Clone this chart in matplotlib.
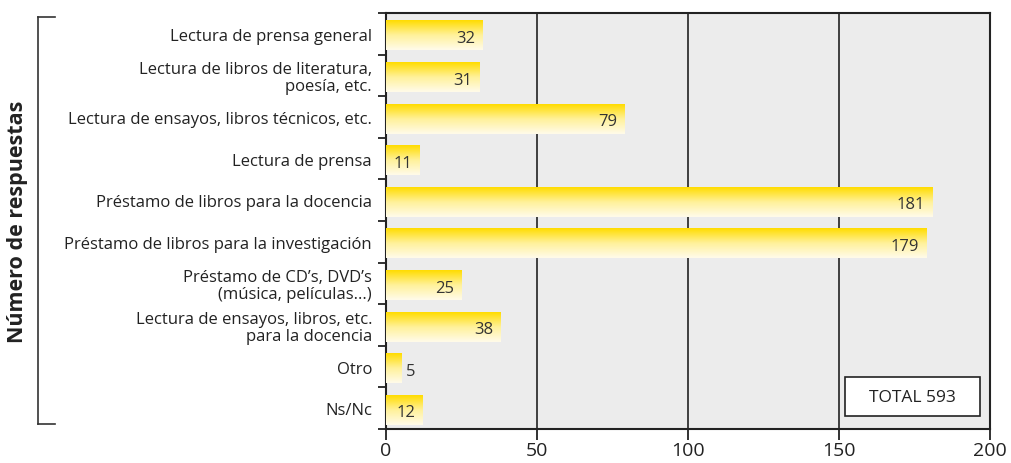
import numpy as np
import matplotlib.pyplot as plt
from matplotlib.colors import LinearSegmentedColormap
from matplotlib.lines import Line2D
from matplotlib.patches import Rectangle

plt.rcParams['font.family'] = ['Open Sans', 'DejaVu Sans']

categories = ['Lectura de prensa general',
              'Lectura de libros de literatura,\npoesía, etc.',
              'Lectura de ensayos, libros técnicos, etc.',
              'Lectura de prensa',
              'Préstamo de libros para la docencia',
              'Préstamo de libros para la investigación',
              'Préstamo de CD’s, DVD’s\n(música, películas...)',
              'Lectura de ensayos, libros, etc.\npara la docencia',
              'Otro',
              'Ns/Nc']
values = [32, 31, 79, 11, 181, 179, 25, 38, 5, 12]
total_text = 'TOTAL 593'
y_title = 'Número de respuestas'
x_ticks = [0, 50, 100, 150, 200]

fig = plt.figure(figsize=(10.11, 4.64), dpi=100)
ax = fig.add_axes([386/1011, 1 - 430/464, (990-386)/1011, (430-14)/464])
ax.set_facecolor('#ececec')

# yellow gradient for bars (top strong, bottom pale)
cmap = LinearSegmentedColormap.from_list('yel', ['#ffdc00', '#fff19a', '#fffbea'])
grad = np.linspace(0, 1, 100).reshape(-1, 1)

h = 0.72
off = 0.04
for i, v in enumerate(values):
    ax.imshow(grad, cmap=cmap, aspect='auto', origin='upper',
              extent=(0, v, i + off + h/2, i + off - h/2), zorder=3, interpolation='bicubic')
    if v > 8:
        ax.text(v - 2.4, i + 0.1, str(v), ha='right', va='center',
                fontsize=12, color='#333333', zorder=4)
    else:
        ax.text(v + 1.5, i + 0.1, str(v), ha='left', va='center',
                fontsize=12, color='#333333', zorder=4)

ax.set_xlim(0, 200)
ax.set_ylim(len(values) - 0.5, -0.5)

ax.set_xticks(x_ticks)
ax.set_xticklabels([str(t) for t in x_ticks], fontsize=14, color='#222222')
ax.tick_params(axis='x', length=8, width=1.3, color='#222222', pad=1, direction='out')

ax.set_yticks(range(len(values)))
ax.set_yticklabels(categories, fontsize=12, color='#222222', linespacing=1.05)
ax.tick_params(axis='y', which='major', length=0, pad=10)
ax.set_yticks(np.arange(-0.5, len(values)), minor=True)
ax.tick_params(axis='y', which='minor', length=6, width=1.3, color='#222222', direction='out')

for x in x_ticks[1:-1]:
    ax.axvline(x, color='#222222', linewidth=1.2, zorder=1)

for s in ax.spines.values():
    s.set_color('#222222')
    s.set_linewidth(1.5)

# total box
ax.add_patch(Rectangle((0.760, 0.031), 0.223, 0.094, transform=ax.transAxes,
                       facecolor='white', edgecolor='#222222', linewidth=1.2, zorder=5))
ax.text(0.871, 0.078, total_text, transform=ax.transAxes, ha='center', va='center',
        fontsize=12.5, color='#222222', zorder=6)

# bracket on the left
W, H = 1011, 464
bx = 38 / W
fig.add_artist(Line2D([bx, bx], [1 - 18/H, 1 - 425/H], color='#333333', linewidth=1.2))
fig.add_artist(Line2D([bx, 55/W], [1 - 18/H, 1 - 18/H], color='#333333', linewidth=1.2))
fig.add_artist(Line2D([bx, 55/W], [1 - 425/H, 1 - 425/H], color='#333333', linewidth=1.2))
fig.text(18/W, 1 - 222/H, y_title, rotation=90, ha='center', va='center',
         fontsize=15.5, fontweight='bold', color='#222222')

fig.savefig('out.png', dpi=100)
